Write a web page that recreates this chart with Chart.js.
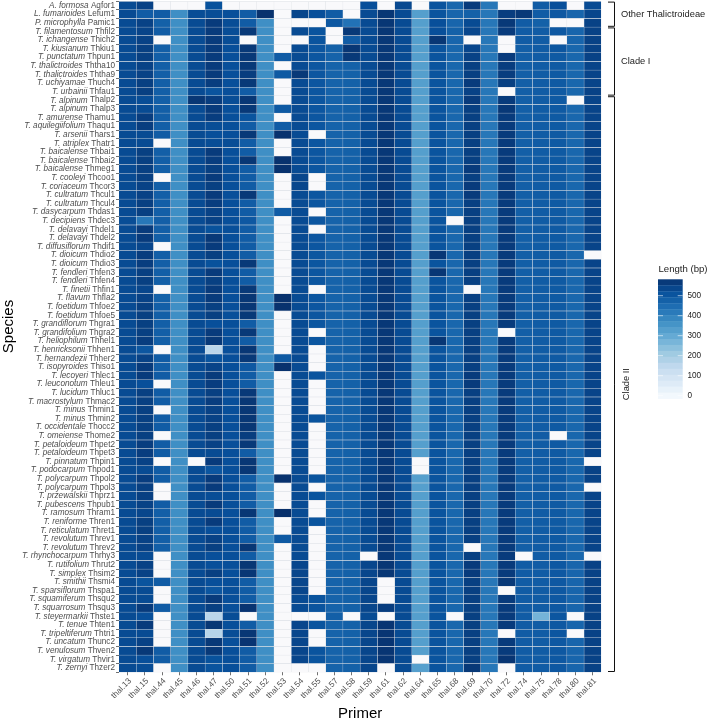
<!DOCTYPE html>
<html>
<head>
<meta charset="utf-8">
<title>Primer length heatmap</title>
<script src="https://cdn.jsdelivr.net/npm/chart.js@4/dist/chart.umd.min.js"></script>
<style>
  body { margin: 0; background: #ffffff; }
  canvas { display: block; }
</style>
</head>
<body>
<canvas id="chart" width="709" height="724"></canvas>
<script>
const primers = ["thal.13","thal.15","thal.44","thal.45","thal.46","thal.47","thal.50","thal.51","thal.52","thal.53","thal.54","thal.55","thal.57","thal.58","thal.59","thal.61","thal.62","thal.64","thal.65","thal.68","thal.69","thal.70","thal.72","thal.74","thal.75","thal.78","thal.80","thal.81"];

const speciesNames = [
  "A. formosa","L. fumarioides","P. microphylla","T. filamentosum","T. ichangense","T. kiusianum","T. punctatum","T. thalictroides","T. thalictroides","T. uchiyamae",
  "T. urbainii","T. alpinum","T. alpinum","T. amurense","T. aquilegiifolium","T. arsenii","T. atriplex","T. baicalense","T. baicalense","T. baicalense",
  "T. cooleyi","T. coriaceum","T. cultratum","T. cultratum","T. dasycarpum","T. decipiens","T. delavayi","T. delavayi","T. diffusiflorum","T. dioicum",
  "T. dioicum","T. fendleri","T. fendleri","T. finetii","T. flavum","T. foetidum","T. foetidum","T. grandiflorum","T. grandifolium","T. heliophilum",
  "T. henricksonii","T. hernandezii","T. isopyroides","T. lecoyeri","T. leuconotum","T. lucidum","T. macrostylum","T. minus","T. minus","T. occidentale",
  "T. omeiense","T. petaloideum","T. petaloideum","T. pinnatum","T. podocarpum","T. polycarpum","T. polycarpum","T. przewalskii","T. pubescens","T. ramosum",
  "T. reniforme","T. reticulatum","T. revolutum","T. revolutum","T. rhynchocarpum","T. rutifolium","T. simplex","T. smithii","T. sparsiflorum","T. squamiferum",
  "T. squarrosum","T. steyermarkii","T. tenue","T. tripeltiferum","T. uncatum","T. venulosum","T. virgatum","T. zernyi"
];

const accessions = [
  "Aqfor1","Lefum1","Pamic1","Thfil2","Thich2","Thkiu1","Thpun1","Ththa10","Ththa9","Thuch4",
  "Thfau1","Thalp2","Thalp3","Thamu1","Thaqu1","Thars1","Thatr1","Thbai1","Thbai2","Thmeg1",
  "Thcoo1","Thcor3","Thcul1","Thcul4","Thdas1","Thdec3","Thdel1","Thdel2","Thdif1","Thdio2",
  "Thdio3","Thfen3","Thfen4","Thfin1","Thfla2","Thfoe2","Thfoe5","Thgra1","Thgra2","Thhel1",
  "Thhen1","Thher2","Thiso1","Thlec1","Thleu1","Thluc1","Thmac2","Thmin1","Thmin2","Thocc2",
  "Thome2","Thpet2","Thpet3","Thpin1","Thpod1","Thpol2","Thpol3","Thprz1","Thpub1","Thram1",
  "Thren1","Thret1","Threv1","Threv2","Thrhy3","Thrut2","Thsim2","Thsmi4","Thspa1","Thsqu2",
  "Thsqu3","Thste1","Thten1","Thtri1","Thunc2","Thven2","Thvir1","Thzer2"
];

// Lengths in bp, one array per primer, species order as above
const thal13 = [
  530,530,530,530,530,530,530,530,530,530,
  530,530,530,530,530,530,530,530,530,530,
  530,530,530,530,530,525,530,530,530,530,
  530,530,530,530,530,530,530,530,530,530,
  530,530,530,530,530,530,530,530,530,530,
  530,530,530,530,530,530,530,530,530,530,
  530,530,530,530,530,530,530,530,530,530,
  530,530,530,530,530,530,530,530];
const thal15 = [
  550,490,550,545,550,555,555,550,550,555,
  555,525,530,560,560,530,530,555,555,555,
  555,550,550,555,555,430,565,565,540,560,
  560,555,555,540,550,555,555,555,555,560,
  505,550,565,565,520,555,555,555,555,555,
  555,560,560,550,530,560,555,555,550,540,
  555,555,550,550,530,550,550,510,530,530,
  565,520,565,530,550,570,520,525];
const thal44 = [
  0,490,480,490,0,485,485,485,485,485,
  485,485,485,485,485,490,0,485,485,485,
  0,485,485,485,485,485,485,485,0,485,
  485,485,485,0,480,485,485,485,485,485,
  0,490,485,490,0,490,490,0,490,490,
  0,490,490,0,490,490,0,0,490,485,
  485,485,485,485,0,0,0,490,0,0,
  490,0,0,0,0,490,490,0];
const thal45 = [
  0,375,375,375,375,375,375,375,375,375,
  375,375,375,375,375,375,375,375,375,375,
  375,375,375,375,375,375,375,375,375,375,
  375,375,375,375,375,375,375,375,375,375,
  375,375,375,375,375,375,375,375,375,375,
  375,375,375,375,375,375,375,375,375,375,
  375,375,375,375,375,375,375,375,375,375,
  375,375,375,375,375,375,375,375];
const thal46 = [
  0,525,530,530,530,530,530,530,530,530,
  530,575,530,530,530,530,530,530,530,530,
  530,530,530,530,530,530,530,530,530,530,
  530,530,530,530,530,530,530,530,530,530,
  530,530,530,530,530,530,530,530,530,530,
  530,530,530,0,530,530,530,530,530,530,
  530,530,530,530,530,530,530,530,530,530,
  530,530,530,530,530,530,530,530];
const thal47 = [
  515,525,565,565,565,565,565,565,565,560,
  510,560,565,560,525,520,525,565,560,555,
  565,555,565,560,550,550,515,570,565,555,
  515,565,555,565,565,555,555,520,565,570,
  170,510,545,565,560,555,560,550,550,555,
  555,550,530,565,505,565,565,525,565,530,
  565,520,550,555,520,520,555,520,505,565,
  555,170,575,175,570,570,515,510];
const thal50 = [
  0,520,525,525,525,520,520,520,520,520,
  520,525,520,520,520,520,525,520,520,520,
  520,520,520,520,520,520,520,520,520,520,
  520,520,520,520,520,520,520,520,520,520,
  520,520,520,520,520,520,520,520,520,520,
  520,520,520,520,520,520,520,520,520,520,
  520,520,520,520,520,520,520,520,520,520,
  520,525,520,525,520,520,520,520];
const thal51 = [
  0,490,490,570,0,570,570,570,560,570,
  490,575,570,510,490,570,490,490,575,490,
  490,490,570,490,490,500,490,490,490,490,
  570,490,490,570,575,575,570,490,570,490,
  575,570,500,490,490,570,575,575,575,575,
  560,570,490,575,575,490,490,490,490,575,
  490,490,490,575,490,575,575,490,490,490,
  580,0,490,575,580,490,490,490];
const thal52 = [
  0,585,375,375,375,375,375,375,375,375,
  375,375,375,375,375,375,375,375,375,375,
  375,375,375,375,375,375,375,375,375,375,
  375,375,375,375,375,375,375,375,375,375,
  375,375,375,375,375,375,375,375,375,375,
  375,375,375,375,375,375,375,375,375,375,
  375,375,375,375,375,375,375,375,375,375,
  375,375,375,375,375,375,375,375];
const thal53 = [
  0,0,0,0,0,0,490,0,495,0,
  0,0,495,0,490,585,0,0,585,585,
  0,0,0,0,490,0,0,0,0,0,
  0,0,0,0,585,585,0,0,0,0,
  0,495,585,0,0,0,0,0,0,0,
  0,0,0,0,0,585,0,0,0,590,
  0,0,495,0,0,0,0,0,0,0,
  0,0,0,0,0,0,0,0];
const thal54 = [
  0,540,0,530,0,530,530,530,570,530,
  530,530,530,530,530,530,530,530,530,530,
  540,540,530,530,530,530,530,530,530,530,
  530,530,530,530,530,530,530,530,530,530,
  530,530,530,530,530,530,530,530,530,530,
  530,530,530,530,530,530,530,530,530,530,
  530,530,530,530,530,540,540,540,540,530,
  530,0,540,540,540,540,540,0];
const thal55 = [
  0,520,0,510,510,505,505,505,505,505,
  505,505,505,505,505,0,505,505,505,505,
  0,0,505,505,0,505,0,505,505,505,
  505,505,505,0,505,505,505,505,0,505,
  0,0,0,510,0,0,0,0,510,0,
  0,0,0,0,0,510,0,510,0,0,
  510,0,0,0,0,0,0,0,0,510,
  510,0,510,0,0,510,510,0];
const thal57 = [
  0,490,500,0,0,480,475,475,475,475,
  475,475,475,475,475,475,475,475,475,475,
  475,475,475,475,475,475,475,475,475,475,
  475,475,475,475,475,475,475,475,475,475,
  475,475,475,475,475,475,475,475,475,475,
  475,475,475,475,475,475,475,475,475,475,
  475,475,475,475,475,475,475,475,475,475,
  475,485,475,475,475,475,475,475];
const thal58 = [
  0,0,440,570,490,575,570,480,480,480,
  480,480,480,480,480,480,480,480,480,480,
  480,480,480,480,480,480,480,480,480,480,
  480,480,480,480,480,480,480,480,480,480,
  480,480,480,480,480,480,480,480,480,480,
  480,480,480,480,480,480,480,480,480,480,
  480,480,480,480,480,480,480,480,480,480,
  480,0,480,480,480,480,480,480];
const thal59 = [
  520,530,530,530,530,530,530,530,530,530,
  530,530,530,530,530,530,530,530,530,530,
  530,530,530,530,530,530,530,530,530,530,
  530,530,530,530,530,530,530,530,530,530,
  530,530,530,530,530,530,530,530,530,530,
  530,530,530,530,530,530,530,530,530,530,
  530,530,530,530,0,540,540,540,540,540,
  540,530,540,540,540,540,540,540];
const thal61 = [
  0,575,575,575,572,572,572,572,572,572,
  572,572,572,572,572,572,572,572,572,572,
  572,572,572,572,572,572,572,572,572,572,
  572,572,572,572,572,572,572,572,572,572,
  572,572,572,572,572,572,572,572,572,572,
  572,572,572,572,572,572,572,572,572,572,
  572,572,572,572,572,575,575,0,0,0,
  560,0,578,578,578,578,578,0];
const thal62 = [
  535,530,530,530,530,530,530,530,530,530,
  530,530,530,530,530,530,530,530,530,530,
  530,530,530,530,530,530,530,530,530,530,
  530,530,530,530,530,530,530,530,530,530,
  530,530,530,530,530,530,530,530,530,530,
  530,530,530,530,530,530,530,530,530,530,
  530,530,530,530,530,530,530,530,530,530,
  530,530,530,530,530,530,530,530];
const thal64 = [
  0,335,335,335,335,335,335,335,335,335,
  335,335,335,335,335,335,335,335,335,335,
  335,335,335,335,335,335,335,335,335,335,
  335,335,335,335,335,335,335,335,335,335,
  335,335,335,335,335,335,335,335,335,335,
  335,335,335,0,0,335,335,335,335,335,
  335,335,335,335,335,335,335,335,335,335,
  335,335,335,335,335,335,0,335];
const thal65 = [
  510,510,520,520,575,510,510,510,510,510,
  510,510,510,510,510,510,510,510,510,510,
  510,510,510,510,510,510,510,510,510,575,
  510,575,510,510,510,510,510,510,510,575,
  510,510,510,510,510,510,510,510,510,510,
  510,510,510,510,510,510,510,510,510,510,
  510,510,510,510,510,510,510,510,510,510,
  510,510,510,510,510,510,510,510];
const thal68 = [
  465,470,470,480,470,465,465,465,465,465,
  465,465,465,465,465,465,465,465,465,465,
  465,465,465,465,465,0,465,465,465,465,
  465,465,465,465,465,465,465,465,465,465,
  465,465,465,465,465,465,465,465,465,465,
  465,465,465,465,465,465,465,465,465,465,
  465,465,465,465,465,465,465,465,465,465,
  465,0,465,465,465,465,465,465];
const thal69 = [
  565,480,530,540,0,540,550,555,555,565,
  550,565,555,555,555,555,555,555,555,565,
  555,565,565,555,555,555,555,555,555,555,
  555,555,555,0,555,555,555,555,555,555,
  555,555,555,565,565,555,555,555,555,555,
  555,555,555,555,555,555,555,555,555,555,
  555,555,555,0,555,565,565,555,555,555,
  555,555,555,555,555,555,555,570];
const thal70 = [
  430,430,430,430,430,430,430,430,430,430,
  430,430,430,430,430,430,430,430,430,430,
  430,430,430,430,430,430,430,430,430,430,
  430,430,430,430,430,430,430,430,430,430,
  430,430,430,430,430,430,430,430,430,430,
  430,430,430,430,430,430,430,430,430,430,
  430,430,430,430,430,430,430,430,430,430,
  430,430,430,430,430,430,430,430];
const thal72 = [
  0,560,570,565,0,0,565,560,560,555,
  0,565,572,565,565,565,565,565,565,565,
  565,565,565,565,565,565,565,565,565,565,
  565,565,565,565,565,565,565,565,0,565,
  565,565,565,565,565,565,565,565,565,565,
  565,565,565,565,565,565,565,565,565,565,
  565,565,565,565,565,565,565,570,0,565,
  565,565,565,0,565,565,578,0];
const thal74 = [
  0,570,490,490,490,485,485,485,485,485,
  485,485,485,485,485,485,485,485,485,485,
  485,485,485,485,485,485,485,485,485,485,
  485,485,485,485,485,485,485,485,485,485,
  485,485,485,485,485,485,485,485,485,485,
  485,485,485,485,485,485,485,485,485,485,
  485,485,485,485,0,490,490,490,490,490,
  490,490,490,490,490,490,490,490];
const thal75 = [
  490,490,480,490,490,490,490,490,490,490,
  490,490,490,490,490,490,490,490,490,490,
  490,490,490,490,490,490,490,490,490,490,
  490,490,490,490,490,490,490,490,490,490,
  490,490,490,490,490,490,490,490,490,490,
  490,490,490,490,490,490,490,490,490,490,
  490,490,490,490,490,490,490,490,490,490,
  490,280,490,490,490,490,490,490];
const thal78 = [
  520,500,0,500,0,505,495,495,495,495,
  495,495,495,495,495,495,495,495,495,495,
  495,495,495,495,495,495,495,495,495,495,
  495,495,495,495,495,495,495,495,495,495,
  495,495,495,495,495,495,495,495,495,495,
  0,495,495,495,495,495,495,495,495,495,
  495,495,495,495,495,500,500,500,500,500,
  500,505,500,505,500,500,500,500];
const thal80 = [
  0,470,0,470,470,465,465,465,465,465,
  465,0,465,465,465,465,465,465,465,465,
  465,465,465,465,465,465,465,465,465,465,
  465,465,465,465,465,465,465,465,465,465,
  465,465,465,465,465,465,465,465,465,465,
  465,465,465,465,465,465,465,465,465,465,
  465,465,465,465,465,470,470,470,470,470,
  470,0,470,0,470,470,470,470];
const thal81 = [
  530,540,550,550,550,550,550,545,545,545,
  550,545,545,545,545,545,545,545,545,545,
  545,545,545,545,545,545,545,545,545,0,
  545,545,545,545,545,545,545,545,545,545,
  545,545,545,545,545,545,545,545,545,545,
  545,545,545,0,550,550,0,545,545,545,
  545,545,545,545,0,550,550,550,550,550,
  550,550,550,550,550,550,550,550];

const lengthsByPrimer = [thal13,thal15,thal44,thal45,thal46,thal47,thal50,thal51,thal52,thal53,thal54,thal55,thal57,thal58,thal59,thal61,thal62,thal64,thal65,thal68,thal69,thal70,thal72,thal74,thal75,thal78,thal80,thal81];

const legendTicks = [0, 100, 200, 300, 400, 500];
const clades = [
  { name: "Other Thalictroideae", first: "Aqfor1", last: "Pamic1" },
  { name: "Clade I", first: "Thfil2", last: "Thfau1" },
  { name: "Clade II", first: "Thalp2", last: "Thzer2" },
];

const blues = [[247,251,255],[222,235,247],[198,219,239],[158,202,225],[107,174,214],[66,146,198],[33,113,181],[8,81,156],[8,48,107]];
const maxLength = 590;
const textFont = '"Liberation Sans", Arial, sans-serif';

// Colour for one length, missing primers (0) are left almost white
function lengthColor(v, forLegend) {
  if (v === 0 && !forLegend) return "#f9f9fb";
  const pos = Math.min(v / maxLength, 1) * (blues.length - 1);
  const i = Math.min(Math.floor(pos), blues.length - 2);
  const t = pos - i;
  const c = blues[i].map((a, k) => Math.round(a + (blues[i + 1][k] - a) * t));
  return `rgb(${c[0]},${c[1]},${c[2]})`;
}

// Italic species name + plain accession, which a normal tick label can't do
const speciesLabels = {
  id: "speciesLabels",
  afterDraw(chart) {
    const ctx = chart.ctx;
    const y = chart.scales.y;
    ctx.save();
    ctx.fillStyle = "#4d4d4d";
    ctx.textBaseline = "middle";
    ctx.textAlign = "right";
    accessions.forEach((acc, i) => {
      const py = y.getPixelForValue(i);
      ctx.font = `8.2px ${textFont}`;
      ctx.fillText(acc, 115, py);
      const w = ctx.measureText(" " + acc).width;
      ctx.font = `italic 8.2px ${textFont}`;
      ctx.fillText(speciesNames[i], 115 - w, py);
    });
    // axis title sits above the plot centre in the original
    ctx.save();
    ctx.translate(9, 326.5);
    ctx.rotate(-Math.PI / 2);
    ctx.textAlign = "center";
    ctx.fillStyle = "#000000";
    ctx.font = `15px ${textFont}`;
    ctx.fillText("Species", 0, 0);
    ctx.restore();
    ctx.restore();
  },
};

// Brackets and clade names on the right
const cladeBrackets = {
  id: "cladeBrackets",
  afterDraw(chart) {
    const ctx = chart.ctx;
    const y = chart.scales.y;
    const half = (y.getPixelForValue(1) - y.getPixelForValue(0)) / 2;
    ctx.save();
    ctx.strokeStyle = "#111111";
    ctx.lineWidth = 1;
    ctx.fillStyle = "#222222";
    ctx.font = `9.3px ${textFont}`;
    ctx.textBaseline = "middle";
    clades.forEach((c) => {
      const top = y.getPixelForValue(accessions.indexOf(c.first)) - half + 0.8;
      const bottom = y.getPixelForValue(accessions.indexOf(c.last)) + half - 0.8;
      ctx.beginPath();
      ctx.moveTo(608, top);
      ctx.lineTo(614.5, top);
      ctx.lineTo(614.5, bottom);
      ctx.lineTo(608, bottom);
      ctx.stroke();
      const mid = (top + bottom) / 2;
      if (c.name === "Clade II") {
        ctx.save();
        ctx.translate(626, mid);
        ctx.rotate(-Math.PI / 2);
        ctx.textAlign = "center";
        ctx.fillText(c.name, 0, 0);
        ctx.restore();
      } else {
        ctx.textAlign = "left";
        ctx.fillText(c.name, 621, mid);
      }
    });
    ctx.restore();
  },
};

// Colour bar legend
const lengthLegend = {
  id: "lengthLegend",
  afterDraw(chart) {
    const ctx = chart.ctx;
    const left = 658, right = 682.7, top = 279.3, bottom = 398.6;
    const zeroY = 395.7, perUnit = 0.2;
    const bins = 20;
    const h = (bottom - top) / bins;
    ctx.save();
    for (let i = 0; i < bins; i++) {
      const v = Math.max(((bins - i - 0.5) / bins) * 582, 0);
      ctx.fillStyle = lengthColor(v, true);
      ctx.fillRect(left, top + i * h, right - left, h + 0.3);
    }
    ctx.strokeStyle = "#ffffff";
    ctx.lineWidth = 0.6;
    ctx.fillStyle = "#222222";
    ctx.font = `8.2px ${textFont}`;
    ctx.textBaseline = "middle";
    ctx.textAlign = "left";
    legendTicks.forEach((t) => {
      const py = zeroY - t * perUnit;
      ctx.beginPath();
      ctx.moveTo(left, py);
      ctx.lineTo(left + 5, py);
      ctx.moveTo(right - 5, py);
      ctx.lineTo(right, py);
      ctx.stroke();
      ctx.fillText(String(t), 687.5, py);
    });
    ctx.font = `9.6px ${textFont}`;
    ctx.fillText("Length (bp)", 658.5, 269);
    ctx.restore();
  },
};

new Chart(document.querySelector("#chart").getContext("2d"), {
  type: "bar",
  data: {
    labels: accessions,
    // one stacked segment per primer, all the same width, the length sets the colour
    datasets: primers.map((p, c) => ({
      label: p,
      data: accessions.map(() => 1),
      backgroundColor: lengthsByPrimer[c].map((v) => lengthColor(v)),
      borderColor: "#d9dde2",
      borderWidth: 0.5,
      barPercentage: 1,
      categoryPercentage: 1,
    })),
  },
  plugins: [speciesLabels, cladeBrackets, lengthLegend],
  options: {
    indexAxis: "y",
    responsive: false,
    animation: false,
    layout: { padding: { top: 1.3, right: 107.7, left: 0, bottom: 0 } },
    plugins: { legend: { display: false }, tooltip: { enabled: false } },
    scales: {
      x: {
        type: "linear",
        stacked: true,
        min: 0,
        max: primers.length,
        afterBuildTicks: (axis) => {
          axis.ticks = primers.map((p, i) => ({ value: i + 0.5 }));
        },
        afterFit: (axis) => {
          axis.height = 51.7;
          axis.paddingLeft = 0;
          axis.paddingRight = 0;
        },
        grid: { drawOnChartArea: false, tickLength: 3, color: "#333333", lineWidth: 0.7 },
        border: { display: false },
        ticks: {
          autoSkip: false,
          minRotation: 45,
          maxRotation: 45,
          padding: 1,
          labelOffset: 2.5,
          color: "#4d4d4d",
          font: { family: textFont, size: 8.2 },
          callback: (v) => primers[v - 0.5],
        },
        title: {
          display: true,
          text: "Primer",
          color: "#000000",
          font: { family: textFont, size: 15 },
          padding: { top: 0, bottom: 1 },
        },
      },
      y: {
        type: "category",
        stacked: true,
        afterFit: (axis) => {
          axis.width = 119;
          axis.paddingTop = 0;
          axis.paddingBottom = 0;
        },
        grid: { drawOnChartArea: false, tickLength: 3, color: "#333333", lineWidth: 0.7 },
        border: { display: false },
        ticks: { autoSkip: false, callback: () => "" },
      },
    },
  },
});
</script>
</body>
</html>
